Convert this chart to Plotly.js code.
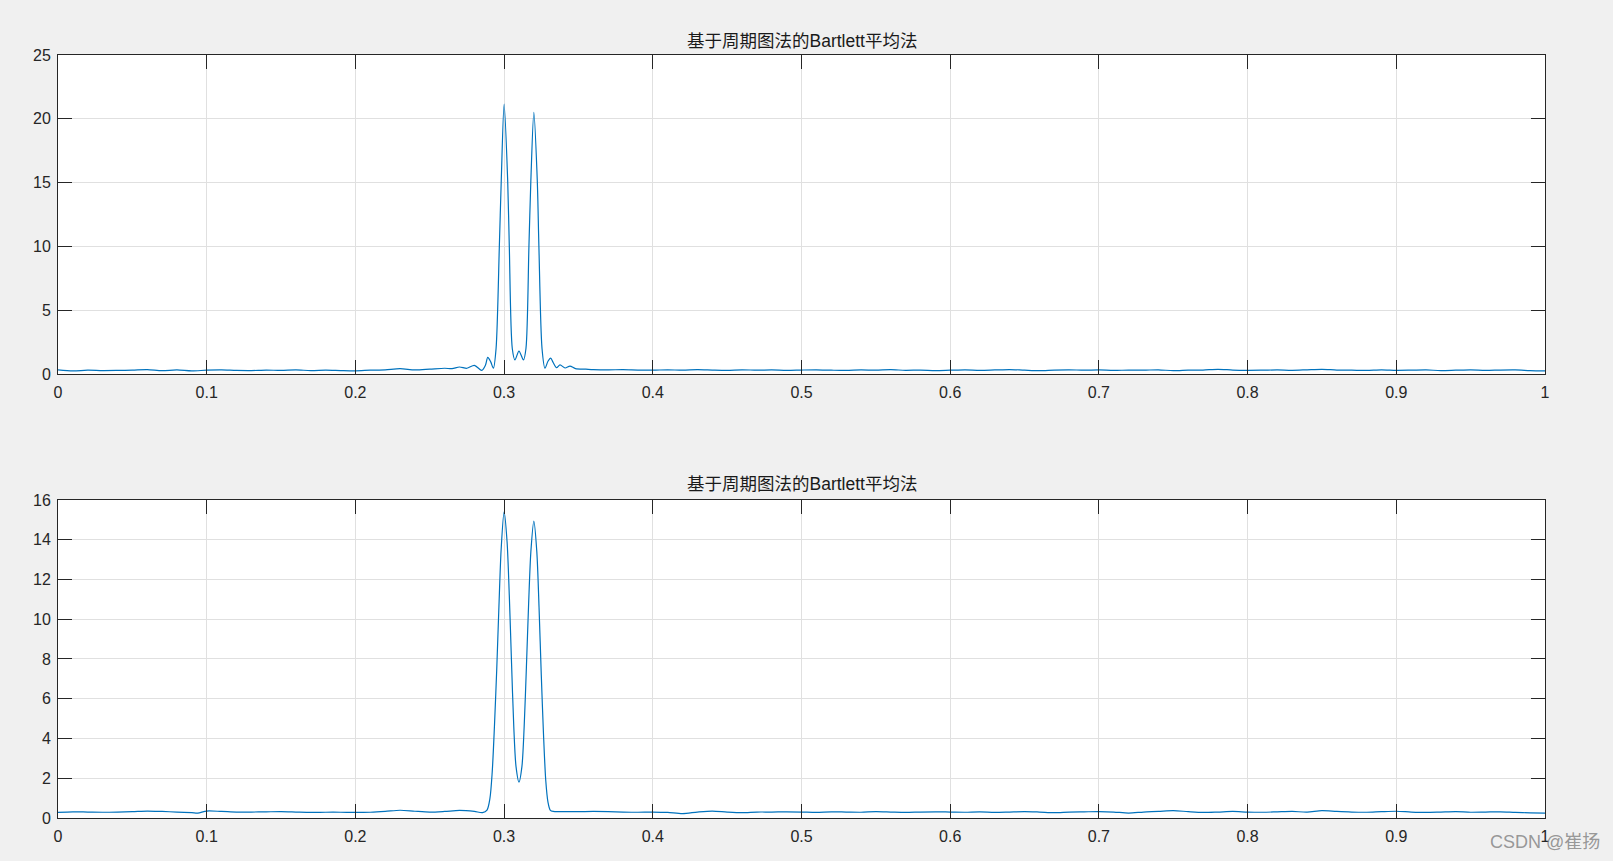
<!DOCTYPE html>
<html>
<head>
<meta charset="utf-8">
<script src="https://cdn.plot.ly/plotly-3.0.1.min.js"></script>
<style>
html,body{margin:0;padding:0;background:#f0f0f0;}
#chart{width:1613px;height:861px;}
</style>
</head>
<body>
<div id="chart"></div>
<script>
// ---- data ----
const titleText = "基于周期图法的Bartlett平均法";
const watermark = "CSDN @崔扬";

const freq1 = [0.00,0.01,0.02,0.03,0.04,0.05,0.06,0.07,0.08,0.09,0.10,0.11,0.12,0.13,0.14,0.15,0.16,0.17,0.18,0.19,0.20,0.21,0.22,0.23,0.24,0.25,0.26,0.265,0.27,0.275,0.28,0.285,0.2875,0.289,0.291,0.2928,0.2946,0.2968,0.2981,0.300,0.3024,0.3035,0.3055,0.3073,0.310,0.313,0.3147,0.3167,0.318,0.320,0.3223,0.3234,0.3255,0.3275,0.3295,0.3313,0.333,0.3353,0.3376,0.341,0.3443,0.348,0.355,0.36,0.37,0.38,0.39,0.40,0.41,0.42,0.43,0.44,0.45,0.46,0.47,0.48,0.49,0.50,0.51,0.52,0.53,0.54,0.55,0.56,0.57,0.58,0.59,0.60,0.61,0.62,0.63,0.64,0.65,0.66,0.67,0.68,0.69,0.70,0.71,0.72,0.73,0.74,0.75,0.76,0.77,0.78,0.79,0.80,0.81,0.82,0.83,0.84,0.85,0.86,0.87,0.88,0.89,0.90,0.91,0.92,0.93,0.94,0.95,0.96,0.97,0.98,0.99,1.00];
const psd1 = [0.32,0.24,0.30,0.27,0.28,0.30,0.34,0.26,0.32,0.24,0.30,0.32,0.28,0.27,0.31,0.28,0.33,0.26,0.30,0.27,0.25,0.30,0.33,0.42,0.32,0.38,0.45,0.42,0.55,0.45,0.68,0.28,0.70,1.30,0.95,0.45,2.0,10.0,15.2,21.15,15.2,10.0,2.0,1.10,1.80,1.10,2.0,10.0,15.2,20.5,15.2,10.0,2.0,0.45,1.00,1.25,0.90,0.50,0.72,0.47,0.62,0.42,0.38,0.35,0.33,0.34,0.31,0.30,0.33,0.30,0.34,0.31,0.29,0.33,0.30,0.32,0.28,0.31,0.33,0.30,0.28,0.32,0.30,0.34,0.29,0.31,0.27,0.30,0.33,0.29,0.32,0.35,0.30,0.26,0.31,0.33,0.30,0.32,0.28,0.31,0.30,0.33,0.26,0.30,0.31,0.37,0.31,0.29,0.30,0.32,0.29,0.33,0.37,0.31,0.30,0.28,0.33,0.29,0.30,0.32,0.27,0.30,0.33,0.28,0.31,0.32,0.27,0.24];

const freq2 = [0.00,0.01,0.02,0.03,0.04,0.05,0.06,0.07,0.08,0.09,0.094,0.10,0.11,0.12,0.13,0.14,0.15,0.16,0.17,0.18,0.19,0.20,0.21,0.22,0.23,0.24,0.25,0.26,0.27,0.28,0.2855,0.2885,0.2905,0.292,0.2935,0.295,0.2965,0.298,0.300,0.302,0.3035,0.305,0.3065,0.308,0.310,0.312,0.3135,0.315,0.3165,0.318,0.320,0.322,0.3235,0.325,0.3265,0.328,0.3295,0.331,0.333,0.34,0.35,0.36,0.37,0.38,0.39,0.40,0.41,0.42,0.43,0.44,0.45,0.46,0.47,0.48,0.49,0.50,0.51,0.52,0.53,0.54,0.55,0.56,0.57,0.58,0.59,0.60,0.61,0.62,0.63,0.64,0.65,0.66,0.67,0.68,0.69,0.70,0.71,0.72,0.73,0.74,0.75,0.76,0.77,0.78,0.79,0.80,0.81,0.82,0.83,0.84,0.85,0.86,0.87,0.88,0.89,0.90,0.91,0.92,0.93,0.94,0.95,0.96,0.97,0.98,0.99,1.00];
const psd2 = [0.28,0.31,0.30,0.29,0.30,0.32,0.35,0.33,0.30,0.27,0.25,0.35,0.33,0.30,0.30,0.31,0.32,0.30,0.28,0.29,0.29,0.28,0.29,0.33,0.39,0.34,0.30,0.33,0.38,0.33,0.27,0.40,1.00,2.30,4.60,7.40,10.6,13.5,15.4,13.9,11.2,7.80,4.60,2.60,1.81,2.60,4.60,7.60,10.8,13.4,14.94,13.4,10.6,7.20,4.20,1.90,0.80,0.40,0.33,0.32,0.32,0.33,0.32,0.30,0.29,0.30,0.28,0.22,0.30,0.35,0.30,0.27,0.30,0.30,0.31,0.30,0.28,0.31,0.30,0.29,0.32,0.30,0.28,0.30,0.31,0.30,0.29,0.31,0.28,0.30,0.32,0.30,0.27,0.30,0.31,0.32,0.30,0.25,0.30,0.33,0.37,0.32,0.28,0.30,0.33,0.30,0.29,0.31,0.33,0.30,0.37,0.33,0.30,0.29,0.32,0.34,0.30,0.28,0.30,0.32,0.29,0.30,0.31,0.28,0.26,0.25];

const xTicks = [0,0.1,0.2,0.3,0.4,0.5,0.6,0.7,0.8,0.9,1];
const xTickText = ["0","0.1","0.2","0.3","0.4","0.5","0.6","0.7","0.8","0.9","1"];
const y1Ticks = [0,5,10,15,20,25];
const y2Ticks = [0,2,4,6,8,10,12,14,16];

// ---- styling ----
const lineColor = "#0072BD";
const axisColor = "#262626";
const gridColor = "#e0e0e0";
const tickFont = {family: "Liberation Sans, Arial, sans-serif", size: 16, color: axisColor};

function xaxisCfg(anchor){
  return {
    anchor: anchor, range: [0,1], tickvals: xTicks, ticktext: xTickText,
    showgrid: true, gridcolor: gridColor, gridwidth: 1,
    showline: true, linecolor: axisColor, linewidth: 1, mirror: "ticks",
    ticks: "inside", ticklen: 14, tickcolor: axisColor, tickwidth: 1,
    ticklabelstandoff: 4,
    zeroline: false, tickfont: tickFont, fixedrange: true
  };
}
function yaxisCfg(anchor, range, vals, domain){
  return {
    anchor: anchor, range: range, tickvals: vals, domain: domain,
    showgrid: true, gridcolor: gridColor, gridwidth: 1,
    showline: true, linecolor: axisColor, linewidth: 1, mirror: "ticks",
    ticks: "inside", ticklen: 14, tickcolor: axisColor, tickwidth: 1,
    ticklabelstandoff: 3,
    zeroline: false, tickfont: tickFont, fixedrange: true
  };
}

const traces = [
  {x: freq1, y: psd1, xaxis: "x", yaxis: "y", type: "scatter", mode: "lines",
   line: {color: lineColor, width: 1.2, shape: "spline", smoothing: 0.8}, hoverinfo: "skip"},
  {x: freq2, y: psd2, xaxis: "x2", yaxis: "y2", type: "scatter", mode: "lines",
   line: {color: lineColor, width: 1.2, shape: "spline", smoothing: 0.8}, hoverinfo: "skip"}
];

const titleFont = {family: "Liberation Sans, Noto Sans CJK SC, sans-serif", size: 17.5, color: "#1a1a1a"};

const layout = {
  width: 1613, height: 861,
  paper_bgcolor: "#f0f0f0", plot_bgcolor: "#ffffff",
  showlegend: false,
  margin: {l: 58, r: 68, t: 55, b: 43},
  xaxis: xaxisCfg("y"),
  yaxis: yaxisCfg("x", [0,25], y1Ticks, [0.5819, 1]),
  xaxis2: xaxisCfg("y2"),
  yaxis2: yaxisCfg("x2", [0,16], y2Ticks, [0, 0.4168]),
  annotations: [
    {text: titleText, xref: "paper", yref: "paper", x: 0.5, y: 1.019,
     xanchor: "center", yanchor: "middle", showarrow: false, font: titleFont},
    {text: titleText, xref: "paper", yref: "paper", x: 0.5, y: 0.438,
     xanchor: "center", yanchor: "middle", showarrow: false, font: titleFont},
    {text: watermark, xref: "paper", yref: "paper", x: 1.0385, y: -0.032,
     xanchor: "right", yanchor: "middle", showarrow: false,
     font: {family: "Liberation Sans, Noto Sans CJK SC, sans-serif", size: 18, color: "rgba(140,140,140,0.9)"}}
  ]
};

Plotly.newPlot("chart", traces, layout, {staticPlot: true, displayModeBar: false});
</script>
</body>
</html>
